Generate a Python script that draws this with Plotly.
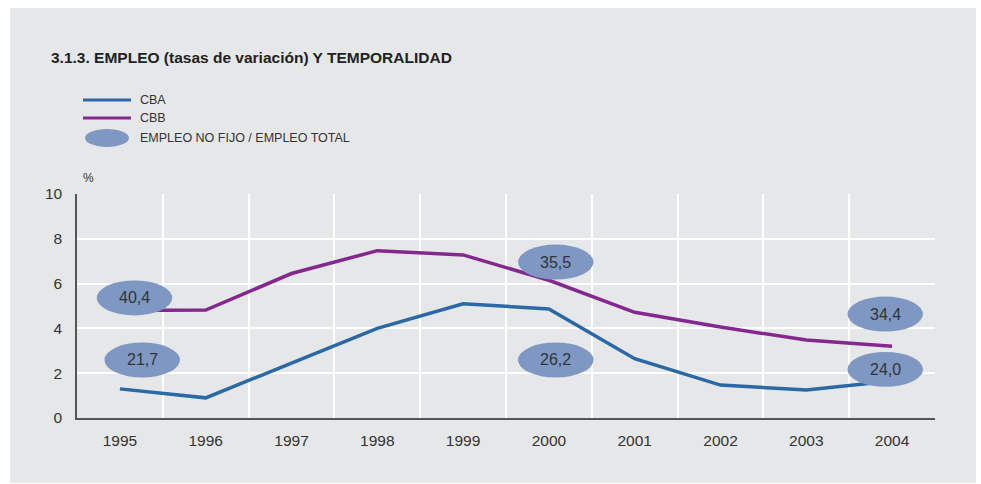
import plotly.graph_objects as go

# Data
years = [1995, 1996, 1997, 1998, 1999, 2000, 2001, 2002, 2003, 2004]
cba = [1.3, 0.9, 2.45, 4.0, 5.1, 4.87, 2.65, 1.47, 1.25, 1.65]
cbb = [4.8, 4.82, 6.45, 7.47, 7.28, 6.15, 4.72, 4.06, 3.48, 3.2]

# Temporality labels (EMPLEO NO FIJO / EMPLEO TOTAL) and where the bubbles sit
temp_labels = ["40,4", "21,7", "35,5", "26,2", "34,4", "24,0"]
temp_x = [1995.17, 1995.26, 2000.08, 2000.08, 2003.92, 2003.92]
temp_y = [5.36, 2.59, 6.96, 2.59, 4.64, 2.17]

W, H = 981, 484
L, T = 77, 194
R = W - 935
B = H - 418
PW, PH = W - L - R, H - T - B


def px(x):
    return (x - L) / PW


def py(y):
    return (H - B - y) / PH


BLUE = "#2a69a5"
PURPLE = "#84288f"
BUBBLE = "#7e98c3"
PANEL = "#e6e7e8"
FONT = "Liberation Sans, Arial, sans-serif"

fig = go.Figure()

fig.add_trace(go.Scatter(x=years, y=cba, mode="lines", name="CBA",
                         line=dict(color=BLUE, width=3.5), showlegend=False))
fig.add_trace(go.Scatter(x=years, y=cbb, mode="lines", name="CBB",
                         line=dict(color=PURPLE, width=3.5), showlegend=False))

shapes = []
# grey panel behind everything
shapes.append(dict(type="rect", xref="paper", yref="paper", layer="below",
                   x0=px(10), x1=px(976), y0=py(483), y1=py(8),
                   fillcolor=PANEL, line=dict(width=0)))

# bubbles (ellipses) in data coordinates
bw, bh = 0.44, 0.78
annotations = []
for lab, xc, yc in zip(temp_labels, temp_x, temp_y):
    shapes.append(dict(type="circle", xref="x", yref="y", layer="above",
                       x0=xc - bw, x1=xc + bw, y0=yc - bh, y1=yc + bh,
                       fillcolor=BUBBLE, line=dict(width=0)))
    annotations.append(dict(x=xc, y=yc, xref="x", yref="y", text=lab,
                            showarrow=False, font=dict(size=16, color="#333333", family=FONT)))

# custom legend
legend_rows = [("CBA", BLUE, 100), ("CBB", PURPLE, 118)]
for name, col, yy in legend_rows:
    shapes.append(dict(type="line", xref="paper", yref="paper",
                       x0=px(83), x1=px(131), y0=py(yy), y1=py(yy),
                       line=dict(color=col, width=3)))
    annotations.append(dict(x=px(138), y=py(yy), xref="paper", yref="paper",
                            text=name, showarrow=False, xanchor="left", yanchor="middle",
                            font=dict(size=12.5, color="#333333", family=FONT)))
shapes.append(dict(type="circle", xref="paper", yref="paper",
                   x0=px(85), x1=px(129), y0=py(147), y1=py(129),
                   fillcolor=BUBBLE, line=dict(width=0)))
annotations.append(dict(x=px(138), y=py(138), xref="paper", yref="paper",
                        text="EMPLEO NO FIJO / EMPLEO TOTAL", showarrow=False,
                        xanchor="left", yanchor="middle",
                        font=dict(size=12.5, color="#333333", family=FONT)))

# title and unit
annotations.append(dict(x=px(49), y=py(57), xref="paper", yref="paper",
                        text="<b>3.1.3. EMPLEO (tasas de variación) Y TEMPORALIDAD</b>",
                        showarrow=False, xanchor="left", yanchor="middle",
                        font=dict(size=15.5, color="#222222", family=FONT)))
annotations.append(dict(x=px(81), y=py(178), xref="paper", yref="paper",
                        text="%", showarrow=False, xanchor="left", yanchor="middle",
                        font=dict(size=12, color="#333333", family=FONT)))

fig.update_layout(
    width=W, height=H,
    margin=dict(l=L, r=R, t=T, b=B, autoexpand=False),
    paper_bgcolor="white",
    plot_bgcolor=PANEL,
    shapes=shapes,
    annotations=annotations,
    showlegend=False,
    font=dict(family=FONT, color="#333333"),
)

fig.update_xaxes(
    range=[1994.5, 2004.5],
    tickvals=years,
    ticktext=[str(y) for y in years],
    showgrid=False,
    minor=dict(tickvals=[y + 0.5 for y in years], showgrid=True,
               gridcolor="white", gridwidth=2, ticks=""),
    showline=True, linecolor="#555555", linewidth=1.5,
    ticks="", ticklabelstandoff=8,
    tickfont=dict(size=15.5, color="#333333"),
    zeroline=False,
)
fig.update_yaxes(
    range=[0, 10],
    dtick=2,
    showgrid=True, gridcolor="white", gridwidth=2,
    showline=True, linecolor="#555555", linewidth=1.5,
    ticks="", ticklabelstandoff=10,
    tickfont=dict(size=15.5, color="#333333"),
    zeroline=False,
)

# drop the default page margin so the figure fills the window exactly
fig.write_html("out.html",
               config={"displayModeBar": False},
               post_script="document.body.style.margin='0';"
                           "document.body.style.overflow='hidden';")
